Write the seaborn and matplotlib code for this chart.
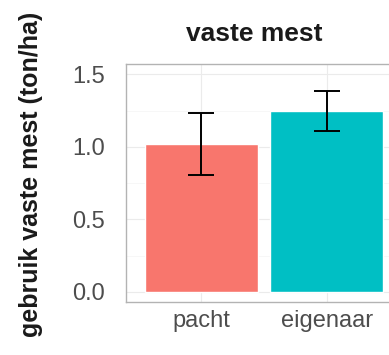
import matplotlib
matplotlib.use("Agg")
import matplotlib.pyplot as plt
import seaborn as sns
import numpy as np
import pandas as pd

categories = ["pacht", "eigenaar"]
means = [1.02, 1.25]
lower = [0.81, 1.11]
upper = [1.235, 1.385]
colors = ["#F8766D", "#00BFC4"]
yticks = [0.0, 0.5, 1.0, 1.5]
title = "vaste mest"
ylabel = "gebruik vaste mest (ton/ha)"

sns.set_theme(style="white")
plt.rcParams["font.family"] = ["Liberation Sans", "DejaVu Sans"]

df = pd.DataFrame({"cat": categories, "val": means})

fig = plt.figure(figsize=(3.89, 3.55), dpi=100)
ax = fig.add_axes([126/389, 53/355, 276/389, 238/355])

sns.barplot(data=df, x="cat", y="val", hue="cat", palette=colors,
            order=categories, hue_order=categories, width=0.9,
            saturation=1, errorbar=None, legend=False, ax=ax, zorder=2)

x = np.arange(len(categories))
m = np.array(means)
yerr = np.vstack([m - np.array(lower), np.array(upper) - m])
ax.errorbar(x, m, yerr=yerr, fmt="none", ecolor="black", elinewidth=1.4,
            capsize=9.5, capthick=1.4, zorder=3)

ax.set_xlim(-0.6, 1.6)
ax.set_ylim(-0.069, 1.572)
ax.set_yticks(yticks)
ax.set_yticklabels([f"{t:.1f}" for t in yticks])
ax.set_yticks([0.25, 0.75, 1.25], minor=True)
ax.grid(True, which="major", color="#ebebeb", lw=0.8, zorder=0)
ax.grid(True, which="minor", axis="y", color="#f4f4f4", lw=0.5, zorder=0)
ax.set_axisbelow(True)
ax.tick_params(axis="both", which="both", length=0, labelsize=17, labelcolor="#4d4d4d")
ax.tick_params(axis="y", pad=15)
ax.tick_params(axis="x", pad=6)
ax.set_xlabel("")
ax.set_ylabel("")
for s in ax.spines.values():
    s.set_color("#b3b3b3")
    s.set_linewidth(1.0)

fig.text(254/389, 1 - 34/355, title, ha="center", va="center",
         fontsize=19, fontweight="bold", color="#1a1a1a")
fig.text(31/389, 1 - 174/355, ylabel, ha="center", va="center",
         rotation=90, fontsize=18, fontweight="bold", color="#1a1a1a")

fig.savefig("out.png", dpi=100)
